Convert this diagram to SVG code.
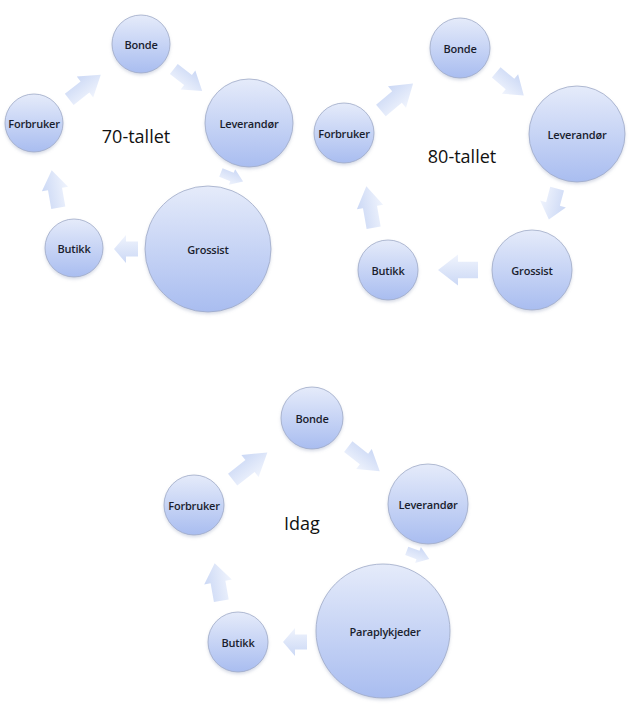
<svg xmlns="http://www.w3.org/2000/svg" width="635" height="713" viewBox="0 0 635 713">
<defs>
<linearGradient id="cg" x1="0" y1="0" x2="0" y2="1">
<stop offset="0" stop-color="#e5ebfa"/>
<stop offset="1" stop-color="#a9bdf0"/>
</linearGradient>
<linearGradient id="ag" x1="0" y1="0" x2="0" y2="1">
<stop offset="0" stop-color="#cbd8f5"/>
<stop offset="1" stop-color="#f0f4fd"/>
</linearGradient>
<filter id="sh" x="-20%" y="-20%" width="140%" height="150%">
<feDropShadow dx="0" dy="2" stdDeviation="1.5" flood-color="#8090b0" flood-opacity="0.3"/>
</filter>
<path id="arr" d="M-20,-7.5 L0,-7.5 L0,-14 L20,0 L0,14 L0,7.5 L-20,7.5 Z"/>
</defs>
<style>
.n circle{fill:url(#cg);stroke:#9ea9c6;stroke-width:0.8;filter:url(#sh)}
.n text{font-family:"Open Sans","Liberation Sans",sans-serif;font-size:11px;font-weight:600;fill:#1a1e2e;text-anchor:middle;dominant-baseline:central;letter-spacing:-0.2px}
.t{font-family:"Open Sans","Liberation Sans",sans-serif;font-size:18px;fill:#111;text-anchor:middle}
.a use{fill:url(#ag)}
</style>
<rect width="635" height="713" fill="#fff"/>

<g id="connectors" class="a">
<use href="#arr" transform="translate(85,87) rotate(-38) scale(1,0.95)"/>
<use href="#arr" transform="translate(188,80) rotate(38) scale(0.9,0.85)"/>
<use href="#arr" transform="translate(232,177) rotate(22) scale(0.6,0.6)"/>
<use href="#arr" transform="translate(126,249) rotate(180) scale(0.6,1.0)"/>
<use href="#arr" transform="translate(55,189) rotate(-100) scale(0.95,0.95)"/>

<use href="#arr" transform="translate(397,97) rotate(-40) scale(1.05,1)"/>
<use href="#arr" transform="translate(510,84) rotate(40) scale(0.9,0.9)"/>
<use href="#arr" transform="translate(553,204) rotate(105) scale(0.8,0.95)"/>
<use href="#arr" transform="translate(458,270) rotate(180) scale(1,1.1)"/>
<use href="#arr" transform="translate(370,207) rotate(-100) scale(1.05,0.95)"/>

<use href="#arr" transform="translate(250,466) rotate(-38) scale(1.1,1)"/>
<use href="#arr" transform="translate(364,459) rotate(38) scale(1,0.9)"/>
<use href="#arr" transform="translate(418,555) rotate(20) scale(0.6,0.6)"/>
<use href="#arr" transform="translate(295,642) rotate(180) scale(0.6,1.0)"/>
<use href="#arr" transform="translate(218,582) rotate(-100) scale(0.95,1)"/>
</g>

<g id="d1-bonde" class="n"><circle cx="141" cy="44" r="29"/><text x="141" y="44">Bonde</text></g>
<g id="d1-leverandor" class="n"><circle cx="249" cy="123" r="44"/><text x="249" y="123">Leverandør</text></g>
<g id="d1-grossist" class="n"><circle cx="208" cy="249" r="63"/><text x="208" y="249">Grossist</text></g>
<g id="d1-butikk" class="n"><circle cx="74" cy="248" r="29"/><text x="74" y="248">Butikk</text></g>
<g id="d1-forbruker" class="n"><circle cx="34" cy="123" r="29"/><text x="34" y="123">Forbruker</text></g>
<text class="t" x="136" y="143">70-tallet</text>

<g id="d2-bonde" class="n"><circle cx="460" cy="48" r="30"/><text x="460" y="48">Bonde</text></g>
<g id="d2-leverandor" class="n"><circle cx="577" cy="134" r="48"/><text x="577" y="134">Leverandør</text></g>
<g id="d2-grossist" class="n"><circle cx="532" cy="270" r="40"/><text x="532" y="270">Grossist</text></g>
<g id="d2-butikk" class="n"><circle cx="388" cy="270" r="30"/><text x="388" y="270">Butikk</text></g>
<g id="d2-forbruker" class="n"><circle cx="344" cy="133" r="30"/><text x="344" y="133">Forbruker</text></g>
<text class="t" x="462" y="163">80-tallet</text>

<g id="d3-bonde" class="n"><circle cx="312" cy="418" r="31"/><text x="312" y="418">Bonde</text></g>
<g id="d3-leverandor" class="n"><circle cx="428" cy="504" r="40"/><text x="428" y="504">Leverandør</text></g>
<g id="d3-paraplykjeder" class="n"><circle cx="383" cy="631" r="67"/><text x="385" y="631">Paraplykjeder</text></g>
<g id="d3-butikk" class="n"><circle cx="238" cy="642" r="30"/><text x="238" y="642">Butikk</text></g>
<g id="d3-forbruker" class="n"><circle cx="194" cy="505" r="30"/><text x="194" y="505">Forbruker</text></g>
<text class="t" x="302" y="530">Idag</text>
</svg>
